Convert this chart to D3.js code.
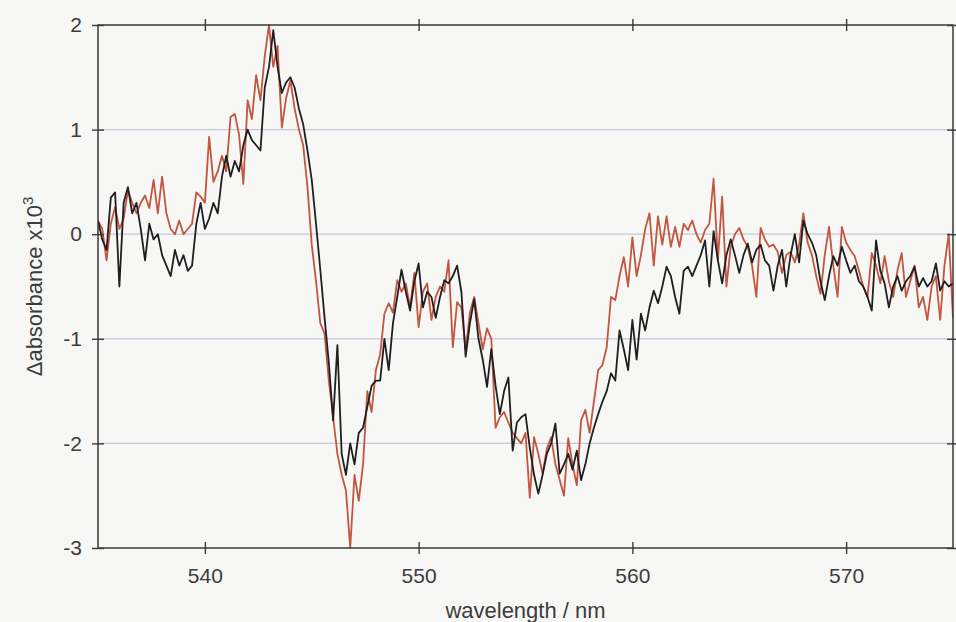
<!DOCTYPE html>
<html>
<head>
<meta charset="utf-8">
<script src="https://cdn.jsdelivr.net/npm/d3@7/dist/d3.min.js"></script>
<style>
  html, body { margin: 0; padding: 0; background: #f7f7f5; }
  svg { display: block; }
  text { font-family: "Liberation Sans", Arial, sans-serif; fill: #3c3c3c; }
</style>
</head>
<body>
<svg id="chart" width="956" height="622"></svg>
<script>
// Difference spectra, absorbance x 10^3, sampled every 0.2 nm from 535 to 575 nm
const wavelengthStart = 535;
const wavelengthStep = 0.2;

const seriesBlack = [
  0.13, -0.05, -0.15, 0.35, 0.4, -0.5, 0.3, 0.45, 0.2, 0.3,
  0.05, -0.25, 0.1, -0.05, 0.0, -0.2, -0.3, -0.4, -0.15, -0.3,
  -0.2, -0.35, -0.3, 0.1, 0.3, 0.05, 0.15, 0.3, 0.2, 0.55,
  0.75, 0.55, 0.7, 0.6, 0.85, 1.0, 0.9, 0.85, 0.8, 1.4,
  1.6, 1.95, 1.6, 1.35, 1.45, 1.5, 1.4, 1.2, 1.05, 0.8,
  0.52, 0.1, -0.34, -0.8, -1.23, -1.78, -1.06, -2.1, -2.3, -2.0,
  -2.2, -1.9, -1.85, -1.65, -1.45, -1.4, -1.4, -1.0, -1.3, -0.85,
  -0.6, -0.34, -0.55, -0.73, -0.45, -0.28, -0.7, -0.55, -0.6, -0.8,
  -0.6, -0.44, -0.47, -0.4, -0.3, -0.55, -1.17, -0.85, -0.62, -1.0,
  -1.2, -1.46, -1.1, -1.45, -1.72, -1.5, -1.37, -2.07, -1.8, -1.75,
  -1.72, -2.04, -2.3, -2.48, -2.3, -2.1, -2.0, -1.81, -2.29, -2.2,
  -2.1, -2.25, -2.07, -2.35, -2.2, -2.0, -1.85, -1.72, -1.6, -1.5,
  -1.33, -1.4, -0.92, -1.1, -1.3, -0.82, -1.2, -0.76, -0.92, -0.7,
  -0.54, -0.66, -0.5, -0.31, -0.4, -0.6, -0.76, -0.35, -0.31, -0.4,
  -0.3, -0.2, -0.06, -0.5, 0.03, -0.25, -0.47, -0.2, -0.05, -0.2,
  -0.37, -0.2, -0.09, -0.27, -0.15, -0.1, -0.25, -0.3, -0.54, -0.3,
  -0.15, -0.5, -0.2, 0.0, -0.27, 0.13, 0.0, -0.08, -0.2, -0.45,
  -0.63, -0.4, -0.21, -0.3, -0.12, -0.25, -0.37, -0.3, -0.45, -0.5,
  -0.6, -0.73, -0.06, -0.35, -0.47, -0.7, -0.5, -0.4, -0.54, -0.45,
  -0.4, -0.31, -0.5, -0.42, -0.5, -0.45, -0.28, -0.54, -0.45, -0.5,
  -0.47
];

const seriesRed = [
  0.13, 0.05, -0.25, 0.1, 0.26, 0.05, 0.15, 0.42, 0.3, 0.2,
  0.3, 0.37, 0.25, 0.52, 0.2, 0.55, 0.2, 0.05, 0.0, 0.13,
  0.0, 0.05, 0.1, 0.4, 0.36, 0.3, 0.93, 0.5, 0.6, 0.75,
  0.6, 1.12, 1.15, 0.95, 0.48, 1.28, 1.1, 1.52, 1.28, 1.7,
  2.0, 1.6, 1.8, 1.02, 1.3, 1.47, 1.2, 1.0, 0.85, 0.45,
  -0.1, -0.45, -0.85, -0.95, -1.4, -1.75, -2.1, -2.3, -2.45, -3.0,
  -2.3, -2.55, -2.2, -1.5, -1.7, -1.3, -1.15, -0.76, -0.66, -0.75,
  -0.44, -0.55, -0.47, -0.7, -0.37, -0.89, -0.55, -0.47, -0.82, -0.6,
  -0.5, -0.55, -0.25, -1.08, -0.65, -0.7, -1.1, -0.75, -0.6, -0.85,
  -1.1, -0.9, -1.0, -1.85, -1.75, -1.7, -1.8, -1.9, -1.95, -2.0,
  -1.9, -2.52, -1.94, -2.1, -2.29, -2.05, -1.94, -2.2, -2.35, -2.5,
  -1.95, -2.2, -2.4, -1.78, -1.68, -1.9, -1.6, -1.3, -1.25, -1.08,
  -0.6, -0.63, -0.4, -0.22, -0.5, -0.03, -0.4, -0.2, 0.05, 0.2,
  -0.3, 0.17, -0.1, 0.17, -0.12, 0.07, -0.12, 0.1, 0.04, 0.13,
  0.0, -0.08, 0.04, 0.1, 0.53, -0.25, 0.36, -0.5, -0.12, 0.0,
  0.06, -0.05, -0.12, -0.3, -0.6, 0.06, -0.05, -0.12, -0.1, -0.17,
  -0.37, -0.2, -0.17, -0.27, -0.1, 0.2, -0.08, -0.2, -0.4, -0.57,
  -0.2, 0.07, -0.3, -0.6, 0.07, -0.08, -0.15, -0.21, -0.35, -0.5,
  -0.6, -0.18, -0.3, -0.47, -0.21, -0.45, -0.6, -0.35, -0.18, -0.6,
  -0.45, -0.3, -0.7, -0.6, -0.82, -0.5, -0.4, -0.82, -0.3, 0.0,
  -0.8
];

const xTicks = [540, 550, 560, 570];
const yTicks = [-3, -2, -1, 0, 1, 2];
const xDomain = [535, 575];
const yDomain = [-3, 2];

const svg = d3.select("#chart");
const margin = { left: 98, right: 3, top: 25, bottom: 74 };
const W = +svg.attr("width"), H = +svg.attr("height");
const innerW = W - margin.left - margin.right;
const innerH = H - margin.top - margin.bottom;

const x = d3.scaleLinear().domain(xDomain).range([margin.left, margin.left + innerW]);
const y = d3.scaleLinear().domain(yDomain).range([margin.top + innerH, margin.top]);

// horizontal grid lines
svg.append("g")
  .selectAll("line")
  .data(yTicks.filter(t => t > yDomain[0] && t < yDomain[1]))
  .join("line")
  .attr("x1", x(xDomain[0])).attr("x2", x(xDomain[1]))
  .attr("y1", d => y(d)).attr("y2", d => y(d))
  .attr("stroke", "#c6c8d9").attr("stroke-width", 1.3);

// spectra
const toPoints = vals => vals.map((v, i) => ({ w: wavelengthStart + i * wavelengthStep, v }));
const line = d3.line().x(d => x(d.w)).y(d => y(d.v));

svg.append("defs").append("clipPath").attr("id", "plotClip")
  .append("rect")
  .attr("x", margin.left).attr("y", margin.top - 1)
  .attr("width", innerW).attr("height", innerH + 2);

const plot = svg.append("g").attr("clip-path", "url(#plotClip)");
plot.append("path").datum(toPoints(seriesRed))
  .attr("d", line).attr("fill", "none")
  .attr("stroke", "#c4553f").attr("stroke-width", 1.8).attr("stroke-linejoin", "round");
plot.append("path").datum(toPoints(seriesBlack))
  .attr("d", line).attr("fill", "none")
  .attr("stroke", "#1f1f1f").attr("stroke-width", 1.8).attr("stroke-linejoin", "round");

// axes: ticks cross the frame on every side
const axisColor = "#3a3a3a";
function styleAxis(g, crossAttr) {
  g.select(".domain").remove();
  g.selectAll(".tick line").attr("stroke", axisColor).attr("stroke-width", 1.4)
    .attr(crossAttr + "1", -6).attr(crossAttr + "2", 6);
  g.selectAll(".tick text").style("font-size", "21px").attr("fill", "#3c3c3c");
}

const plainNumber = d => String(d);

svg.append("g")
  .attr("transform", `translate(0,${y(yDomain[0])})`)
  .call(d3.axisBottom(x).tickValues(xTicks).tickFormat(plainNumber).tickPadding(14))
  .call(g => styleAxis(g, "y"));

svg.append("g")
  .attr("transform", `translate(0,${y(yDomain[1])})`)
  .call(d3.axisTop(x).tickValues(xTicks).tickFormat(""))
  .call(g => styleAxis(g, "y"));

svg.append("g")
  .attr("transform", `translate(${x(xDomain[0])},0)`)
  .call(d3.axisLeft(y).tickValues(yTicks).tickFormat(plainNumber).tickPadding(10))
  .call(g => styleAxis(g, "x"));

svg.append("g")
  .attr("transform", `translate(${x(xDomain[1])},0)`)
  .call(d3.axisRight(y).tickValues(yTicks).tickFormat(""))
  .call(g => styleAxis(g, "x"));

// frame
svg.append("rect")
  .attr("x", x(xDomain[0])).attr("y", y(yDomain[1]))
  .attr("width", x(xDomain[1]) - x(xDomain[0]))
  .attr("height", y(yDomain[0]) - y(yDomain[1]))
  .attr("fill", "none").attr("stroke", axisColor).attr("stroke-width", 1.5);

// axis titles
svg.append("text")
  .attr("x", (x(xDomain[0]) + x(xDomain[1])) / 2)
  .attr("y", 618)
  .attr("text-anchor", "middle")
  .style("font-size", "22px")
  .text("wavelength / nm");

const yTitle = svg.append("text")
  .attr("transform", `translate(42,${(y(yDomain[0]) + y(yDomain[1])) / 2}) rotate(-90)`)
  .attr("text-anchor", "middle")
  .style("font-size", "22px");
yTitle.append("tspan").text("Δabsorbance x10");
yTitle.append("tspan").attr("dy", -9).style("font-size", "15px").text("3");
</script>
</body>
</html>
